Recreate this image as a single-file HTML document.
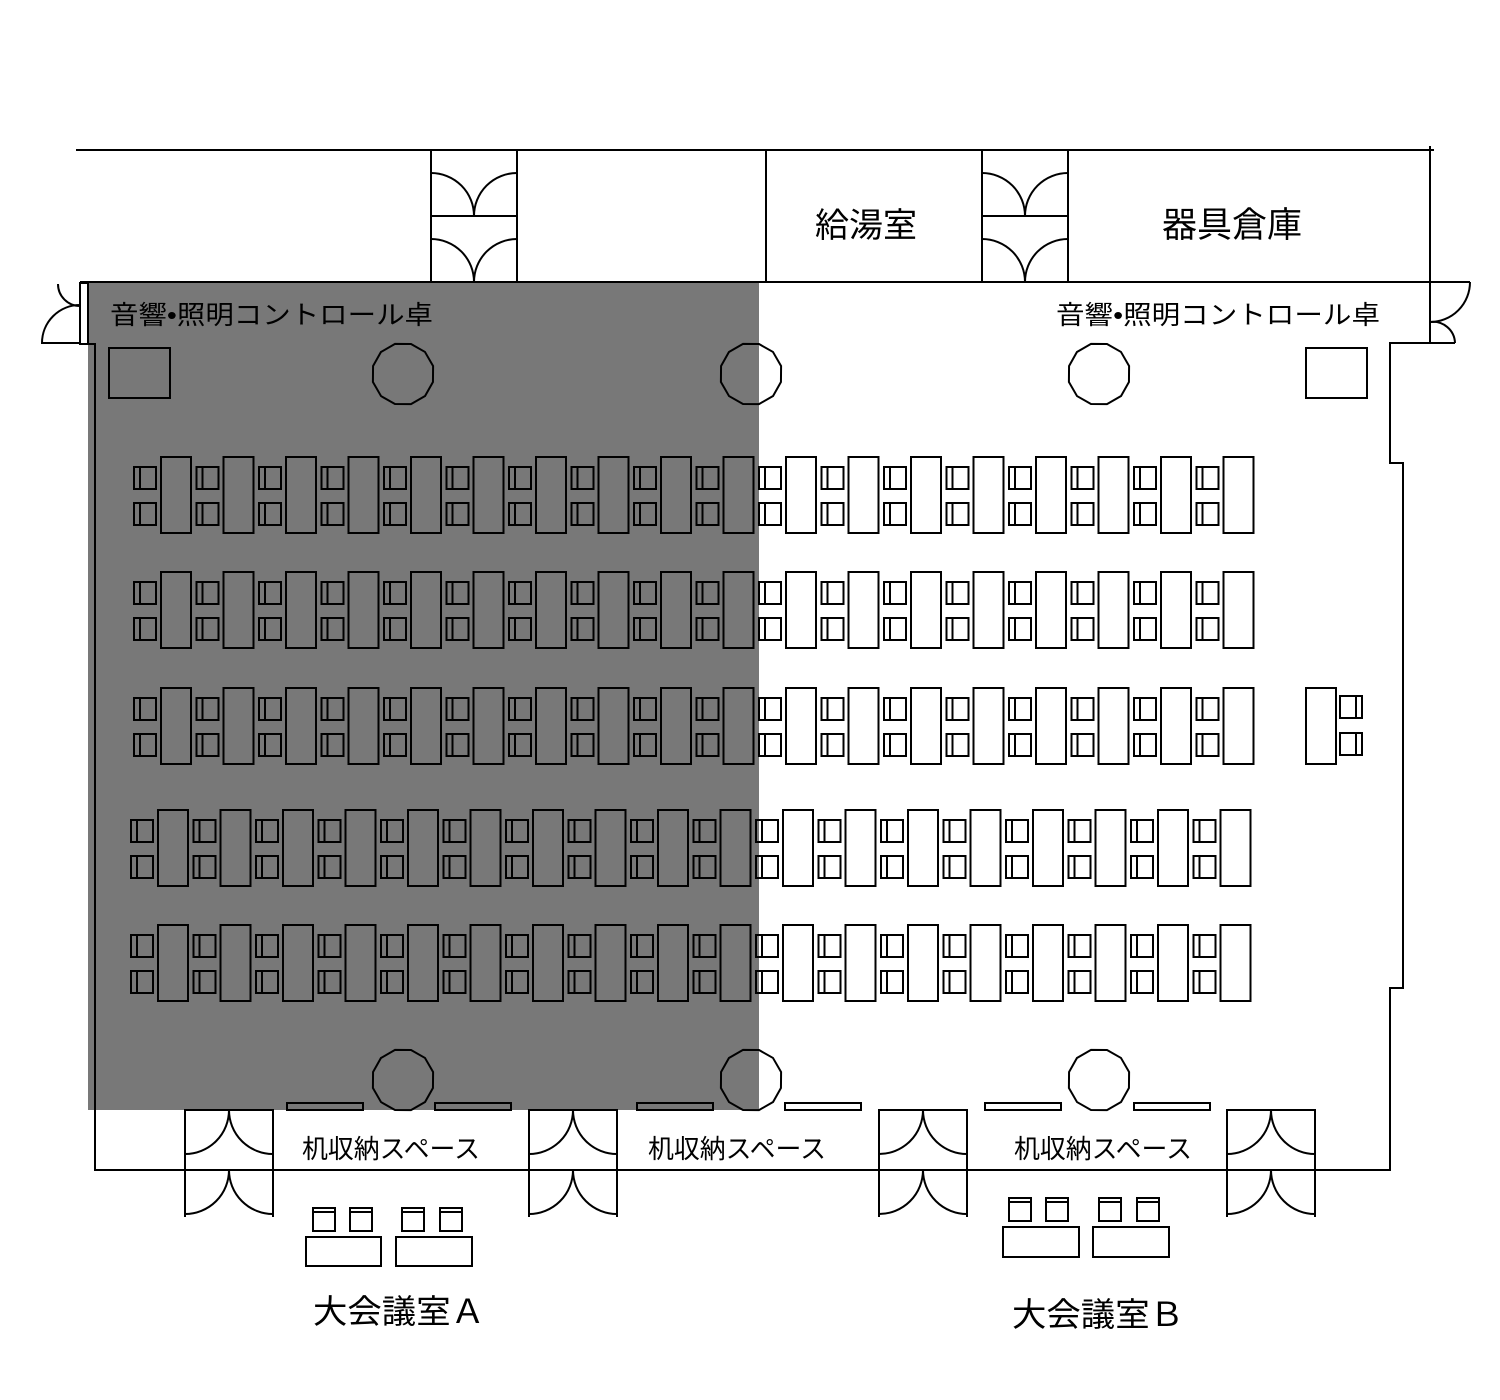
<!DOCTYPE html>
<html><head><meta charset="utf-8"><style>
html,body{margin:0;padding:0;background:#fff;}
svg{display:block;}
text{font-family:"Liberation Sans","Noto Sans CJK JP",sans-serif;fill:#000;}
</style></head><body>
<svg width="1500" height="1400" viewBox="0 0 1500 1400" xmlns="http://www.w3.org/2000/svg">
<defs>
<g id="chair" fill="none" stroke="#000" stroke-width="2"><rect x="0" y="0" width="22" height="22"/><line x1="6" y1="0" x2="6" y2="22"/></g>
<g id="unit" fill="none" stroke="#000" stroke-width="2">
<use href="#chair" x="0" y="10"/><use href="#chair" x="0" y="46"/>
<rect x="27" y="0" width="30" height="76"/></g>
<g id="row">
<use href="#unit" x="0"/><use href="#unit" x="62.5"/><use href="#unit" x="125"/><use href="#unit" x="187.5"/><use href="#unit" x="250"/><use href="#unit" x="312.5"/><use href="#unit" x="375"/><use href="#unit" x="437.5"/><use href="#unit" x="500"/><use href="#unit" x="562.5"/><use href="#unit" x="625"/><use href="#unit" x="687.5"/><use href="#unit" x="750"/><use href="#unit" x="812.5"/><use href="#unit" x="875"/><use href="#unit" x="937.5"/><use href="#unit" x="1000"/><use href="#unit" x="1062.5"/></g>
<polygon id="pillar" points="31,0 27,15.5 15.5,27 0,31 -15.5,27 -27,15.5 -31,0 -27,-15.5 -15.5,-27 0,-31 15.5,-27 27,-15.5" fill="none" stroke="#000" stroke-width="2" transform="rotate(15)"/>
<g id="bdoor" fill="none" stroke="#000" stroke-width="2">
<path d="M0,60 L0,0 L88,0 L88,60"/>
<path d="M0,44 A44,44 0 0 0 44,0 A44,44 0 0 0 88,44"/>
<path d="M0,60 L0,107 M88,60 L88,107"/>
<path d="M0,104 A44,44 0 0 0 44,60 A44,44 0 0 0 88,104"/>
</g>
<g id="tdoor" fill="none" stroke="#000" stroke-width="2">
<path d="M0,23 A43,43 0 0 1 43,66 A43,43 0 0 1 86,23"/>
<line x1="0" y1="66" x2="86" y2="66"/>
<path d="M0,89 A43,43 0 0 1 43,132 A43,43 0 0 1 86,89"/>
</g>
<g id="schair" fill="none" stroke="#000" stroke-width="2"><rect x="0" y="0" width="22" height="23"/><line x1="0" y1="4" x2="22" y2="4"/></g>
</defs>

<g fill="none" stroke="#000" stroke-width="2">
<line x1="76" y1="150" x2="1434" y2="150"/>
<line x1="80" y1="282" x2="1470" y2="282"/>
<line x1="431" y1="150" x2="431" y2="282"/>
<line x1="517" y1="150" x2="517" y2="282"/>
<line x1="766" y1="150" x2="766" y2="282"/>
<line x1="982" y1="150" x2="982" y2="282"/>
<line x1="1068" y1="150" x2="1068" y2="282"/>
<line x1="1430" y1="146" x2="1430" y2="343"/>
<rect x="80" y="283" width="8" height="61"/>
<path d="M80,344 L95,344 L95,1170 L1390,1170 L1390,988 L1403,988 L1403,463 L1390,463 L1390,343 L1455,343"/>
<path d="M58,284 A22,22 0 0 0 80,306"/>
<path d="M80,305 A38,38 0 0 0 42,343 L80,343"/>
<path d="M1470,282 A40,40 0 0 1 1430,322"/>
<path d="M1430,322 A22,22 0 0 1 1455,343"/>
</g>
<use href="#tdoor" x="431" y="150"/>
<use href="#tdoor" x="982" y="150"/>

<text x="815" y="237" font-size="34" textLength="102" lengthAdjust="spacingAndGlyphs">給湯室</text>
<text x="1162" y="237" font-size="35" textLength="140" lengthAdjust="spacingAndGlyphs">器具倉庫</text>
<text x="110" y="324" font-size="26" textLength="323" lengthAdjust="spacingAndGlyphs">音響•照明コントロール卓</text>
<text x="1056" y="324" font-size="26" textLength="324" lengthAdjust="spacingAndGlyphs">音響•照明コントロール卓</text>

<g fill="none" stroke="#000" stroke-width="2">
<rect x="109" y="348" width="61" height="50"/>
<rect x="1306" y="348" width="61" height="50"/>
<rect x="1306" y="688" width="30" height="76"/>
<rect x="1340" y="696" width="22" height="22"/><line x1="1356" y1="696" x2="1356" y2="718"/>
<rect x="1340" y="733" width="22" height="22"/><line x1="1356" y1="733" x2="1356" y2="755"/>
<rect x="287" y="1103" width="76" height="7"/>
<rect x="435" y="1103" width="76" height="7"/>
<rect x="637" y="1103" width="76" height="7"/>
<rect x="785" y="1103" width="76" height="7"/>
<rect x="985" y="1103" width="76" height="7"/>
<rect x="1134" y="1103" width="76" height="7"/>
<rect x="306" y="1237" width="75" height="29"/>
<rect x="396" y="1237" width="76" height="29"/>
<rect x="1003" y="1227" width="76" height="30"/>
<rect x="1093" y="1227" width="76" height="30"/>
</g>
<use href="#schair" x="313" y="1208"/><use href="#schair" x="350" y="1208"/>
<use href="#schair" x="402" y="1208"/><use href="#schair" x="440" y="1208"/>
<use href="#schair" x="1009" y="1198"/><use href="#schair" x="1046" y="1198"/>
<use href="#schair" x="1099" y="1198"/><use href="#schair" x="1137" y="1198"/>

<use href="#pillar" x="403" y="374"/><use href="#pillar" x="751" y="374"/><use href="#pillar" x="1099" y="374"/>
<use href="#pillar" x="403" y="1080"/><use href="#pillar" x="751" y="1080"/><use href="#pillar" x="1099" y="1080"/>

<use href="#row" x="134" y="457"/>
<use href="#row" x="134" y="572"/>
<use href="#row" x="134" y="688"/>
<use href="#row" x="131" y="810"/>
<use href="#row" x="131" y="925"/>

<use href="#bdoor" x="185" y="1110"/>
<use href="#bdoor" x="529" y="1110"/>
<use href="#bdoor" x="879" y="1110"/>
<use href="#bdoor" x="1227" y="1110"/>

<text x="302" y="1158" font-size="26" textLength="178" lengthAdjust="spacingAndGlyphs">机収納スペース</text>
<text x="648" y="1158" font-size="26" textLength="178" lengthAdjust="spacingAndGlyphs">机収納スペース</text>
<text x="1014" y="1158" font-size="26" textLength="178" lengthAdjust="spacingAndGlyphs">机収納スペース</text>
<text x="313" y="1323" font-size="33" textLength="172" lengthAdjust="spacingAndGlyphs">大会議室Ａ</text>
<text x="1012" y="1326" font-size="33" textLength="172" lengthAdjust="spacingAndGlyphs">大会議室Ｂ</text>

<rect x="88" y="282" width="671" height="828" fill="rgba(0,0,0,0.53)"/>
</svg>
</body></html>
